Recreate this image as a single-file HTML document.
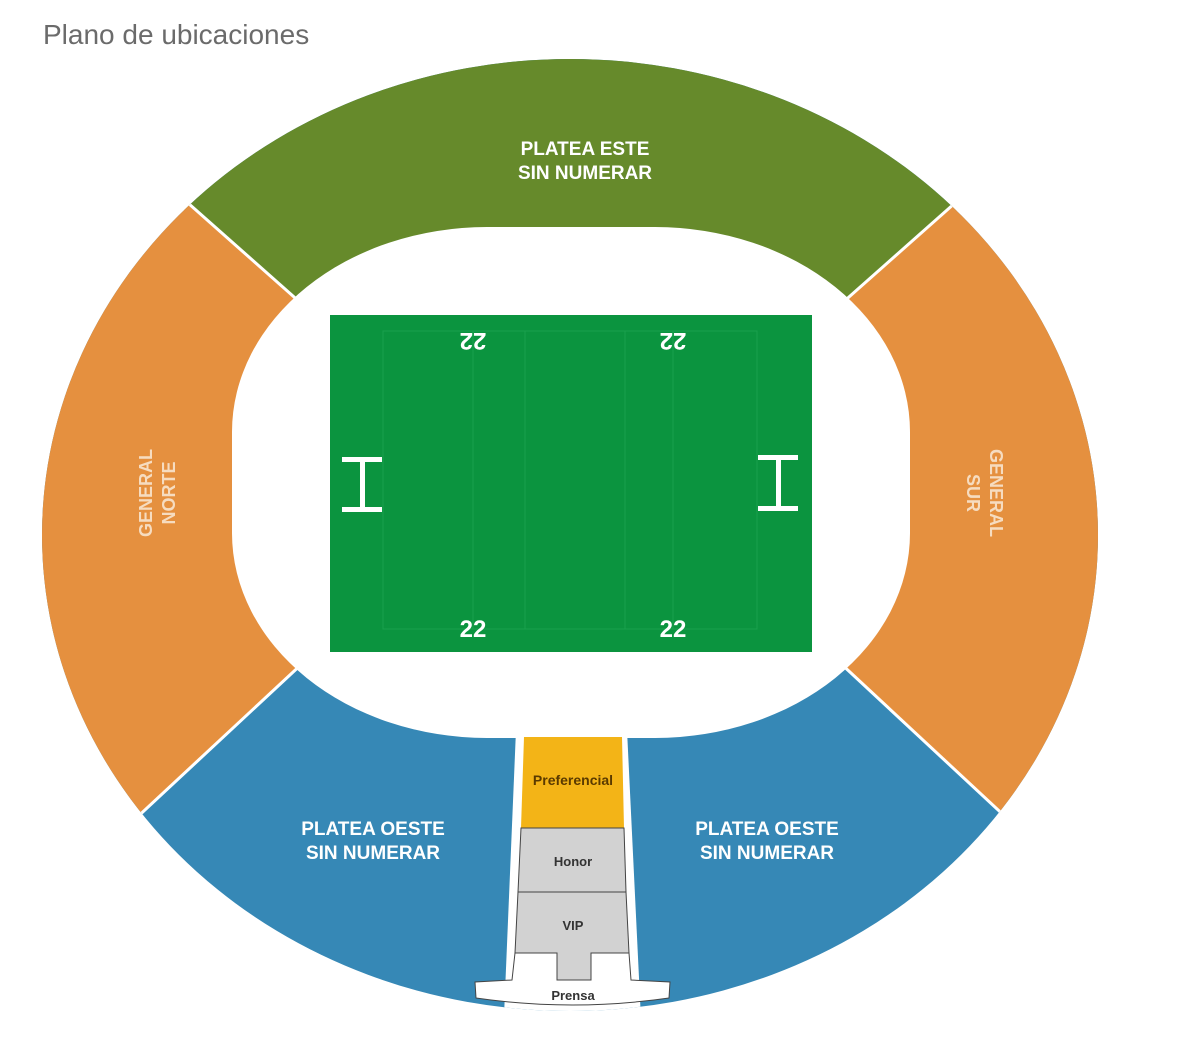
<!DOCTYPE html>
<html><head><meta charset="utf-8"><style>
html,body{margin:0;padding:0;background:#fff;}
svg{display:block;}
</style></head><body>
<svg width="1200" height="1038" viewBox="0 0 1200 1038" xmlns="http://www.w3.org/2000/svg" font-family="Liberation Sans, sans-serif">
<text x="43" y="44" font-size="28" fill="#6b6b6b">Plano de ubicaciones</text>
<defs>
<clipPath id="ov"><ellipse cx="570" cy="535" rx="528" ry="476"/></clipPath>
</defs>
<g clip-path="url(#ov)">
<rect x="0" y="0" width="1200" height="1038" fill="#3688b6"/>
<polygon points="571,560 -480,-390 1620,-390" fill="#668a2b"/>
<polygon points="320,320 100,125 -50,125 -50,900 60,889 320,647" fill="#e5903f"/>
<polygon points="823,320 1043,125 1193,125 1193,900 1083,889 823,647" fill="#e5903f"/>
<line x1="320" y1="320" x2="100" y2="125" stroke="#fff" stroke-width="3"/>
<line x1="823" y1="320" x2="1043" y2="125" stroke="#fff" stroke-width="3"/>
<line x1="320" y1="647" x2="60" y2="889" stroke="#fff" stroke-width="3"/>
<line x1="823" y1="647" x2="1083" y2="889" stroke="#fff" stroke-width="3"/>
<polygon points="516,730 627,730 642,1040 503,1040" fill="#fff"/>
</g>
<rect x="232" y="227" width="678" height="511" rx="255" ry="205" fill="#fff"/>
<!-- field -->
<rect x="330" y="315" width="482" height="337" fill="#0b943f"/>
<g stroke="#1aa04d" stroke-width="1" fill="none">
<rect x="383" y="331" width="374" height="298"/>
<line x1="473" y1="331" x2="473" y2="629"/><line x1="673" y1="331" x2="673" y2="629"/>
<line x1="525" y1="331" x2="525" y2="629"/><line x1="625" y1="331" x2="625" y2="629"/>
</g>
<g fill="#fff" font-weight="bold" font-size="24" text-anchor="middle">
<text x="473" y="637">22</text><text x="673" y="637">22</text>
<text transform="translate(473,333) rotate(180)">22</text>
<text transform="translate(673,333) rotate(180)">22</text>
</g>
<g fill="#fff">
<rect x="342" y="457" width="40" height="5"/><rect x="342" y="507" width="40" height="5"/><rect x="360" y="460" width="5" height="50"/>
<rect x="758" y="455" width="40" height="5"/><rect x="758" y="506" width="40" height="5"/><rect x="776" y="458" width="5" height="50"/>
</g>
<!-- labels -->
<g fill="#fff" font-weight="bold" font-size="19" text-anchor="middle">
<text x="585" y="155">PLATEA ESTE</text><text x="585" y="179">SIN NUMERAR</text>
<text x="373" y="835">PLATEA OESTE</text><text x="373" y="859">SIN NUMERAR</text>
<text x="767" y="835">PLATEA OESTE</text><text x="767" y="859">SIN NUMERAR</text>
<g fill="#f6dcc0" font-size="18">
<text transform="translate(152,493) rotate(-90)">GENERAL</text>
<text transform="translate(175,493) rotate(-90)">NORTE</text>
<text transform="translate(990,493) rotate(90)">GENERAL</text>
<text transform="translate(967,493) rotate(90)">SUR</text>
</g>
</g>
<!-- center strip -->
<polygon points="524,737 622,737 624,828 521,828" fill="#f3b417"/>
<polygon points="521,828 624,828 626,892 518,892" fill="#d2d2d2" stroke="#444" stroke-width="1"/>
<polygon points="518,892 626,892 629,953 591,953 591,980 557,980 557,953 515,953" fill="#d2d2d2" stroke="#444" stroke-width="1"/>
<path d="M515,953 L557,953 L557,980 L591,980 L591,953 L629,953 L631,980 L670,982 L669,998 Q572,1012 476,998 L475,982 L512,980 Z" fill="#fff" stroke="#444" stroke-width="1"/>
<g font-weight="bold" text-anchor="middle" fill="#333" font-size="13">
<text x="573" y="785" fill="#5a3a00" font-size="14">Preferencial</text>
<text x="573" y="866">Honor</text>
<text x="573" y="930">VIP</text>
<text x="573" y="1000">Prensa</text>
</g>
</svg>
</body></html>
